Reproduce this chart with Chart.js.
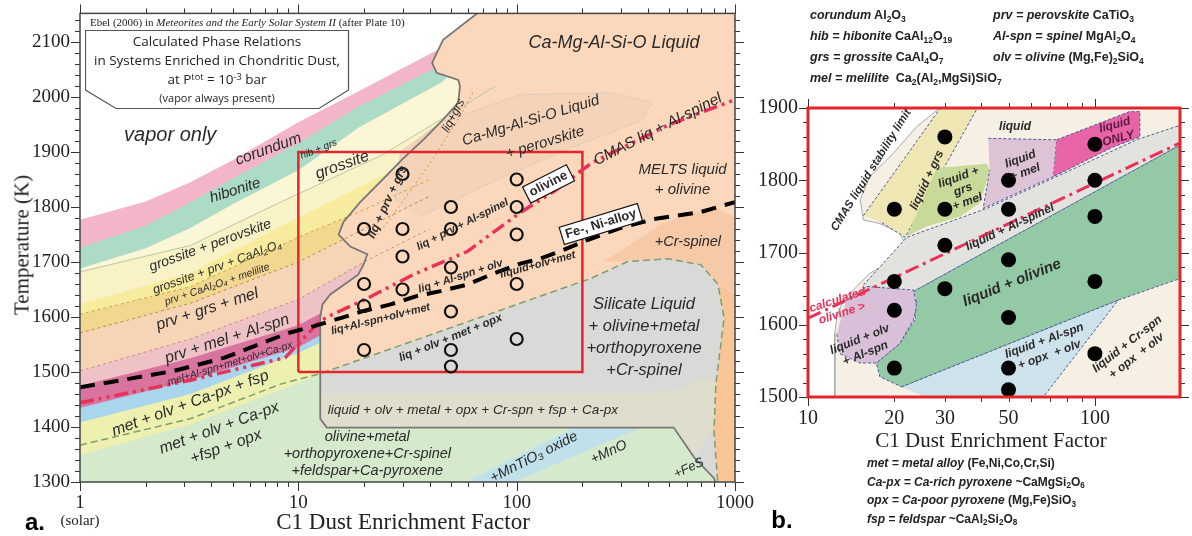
<!DOCTYPE html>
<html><head><meta charset="utf-8">
<script src="https://cdn.jsdelivr.net/npm/chart.js@4.4.1/dist/chart.umd.min.js"></script>
<style>
body{margin:0;width:1192px;height:536px;position:relative;background:#fff;overflow:hidden;font-family:"Liberation Sans",Arial,sans-serif}
.abs{position:absolute}
sub{font-size:.68em;vertical-align:baseline;position:relative;top:.32em;line-height:0}
sup{font-size:.68em;vertical-align:baseline;position:relative;top:-.45em;line-height:0}
.note{font-weight:bold;color:#222;white-space:nowrap}
.serif{font-family:"Liberation Serif","Times New Roman",serif;color:#222;white-space:nowrap}
</style></head><body>
<canvas id="ca" class="abs" width="760" height="536" style="left:0;top:0"></canvas>
<canvas id="cb" class="abs" width="452" height="536" style="left:740px;top:0"></canvas>

<div class="abs serif" style="left:90px;top:16px;font-size:11px">Ebel (2006) in <i>Meteorites and the Early Solar System II</i> (after Plate 10)</div>
<svg class="abs" style="left:85px;top:30px" width="266" height="81"><polygon points="0.5,0.5 263.5,0.5 263.5,60 234,78.5 31,78.5 0.5,60" fill="#fff" stroke="#555" stroke-width="1.2"/></svg>
<div class="abs" style="left:85px;top:30px;width:264px;text-align:center;font-family:'Open Sans',sans-serif;color:#222">
<div style="font-size:13.5px;line-height:19px;margin-top:2px">Calculated Phase Relations</div>
<div style="font-size:13.5px;line-height:19px">in Systems Enriched in Chondritic Dust,</div>
<div style="font-size:13.5px;line-height:19px">at P<sup>tot</sup> = 10<sup>-3</sup> bar</div>
<div style="font-size:11px;line-height:17px">(vapor always present)</div>
</div>

<div class="abs serif" style="top:245px;font-size:21px;transform:translate(-50%,-50%) rotate(-90deg);transform-origin:50% 50%;left:22px">Temperature (K)</div>
<div class="abs serif" style="left:403px;top:522px;font-size:23px;transform:translate(-50%,-50%)">C1 Dust Enrichment Factor</div>
<div class="abs serif" style="left:80px;top:520px;font-size:15px;transform:translate(-50%,-50%)">(solar)</div>
<div class="abs" style="left:35px;top:522px;font-size:24px;font-weight:bold;transform:translate(-50%,-50%)">a.</div>
<div class="abs serif" style="left:991px;top:440px;font-size:21px;transform:translate(-50%,-50%)">C1 Dust Enrichment Factor</div>
<div class="abs" style="left:782px;top:520px;font-size:24px;font-weight:bold;transform:translate(-50%,-50%)">b.</div>

<div class="abs note" style="left:810px;top:5px;font-size:12.5px;line-height:21px">
<div><i>corundum</i> Al<sub>2</sub>O<sub>3</sub></div>
<div><i>hib = hibonite</i> CaAl<sub>12</sub>O<sub>19</sub></div>
<div><i>grs = grossite</i> CaAl<sub>4</sub>O<sub>7</sub></div>
<div><i>mel = melilite</i>&nbsp; Ca<sub>2</sub>(Al<sub>2</sub>,MgSi)SiO<sub>7</sub></div>
</div>
<div class="abs note" style="left:993px;top:5px;font-size:12.5px;line-height:21px">
<div><i>prv = perovskite</i> CaTiO<sub>3</sub></div>
<div><i>Al-spn = spinel</i> MgAl<sub>2</sub>O<sub>4</sub></div>
<div><i>olv = olivine</i> (Mg,Fe)<sub>2</sub>SiO<sub>4</sub></div>
</div>
<div class="abs note" style="left:867px;top:454px;font-size:12px;line-height:18.5px">
<div><i>met = metal alloy</i> (Fe,Ni,Co,Cr,Si)</div>
<div><i>Ca-px = Ca-rich pyroxene</i> ~CaMgSi<sub>2</sub>O<sub>6</sub></div>
<div><i>opx = Ca-poor pyroxene</i> (Mg,Fe)SiO<sub>3</sub></div>
<div><i>fsp = feldspar</i> ~CaAl<sub>2</sub>Si<sub>2</sub>O<sub>8</sub></div>
</div>

<script>
// ===================== DATA =====================
// Experiment / calculation points [C1 dust enrichment, T (K)]
const runPoints = [[20,1760],[20,1660],[20,1620],[20,1540],
  [30,1860],[30,1760],[30,1710],[30,1650],
  [50,1800],[50,1760],[50,1690],[50,1610],[50,1540],[50,1510],
  [100,1850],[100,1800],[100,1750],[100,1660],[100,1560]];

// Tick labels
const aXTicks = [1, 10, 100, 1000];
const aYTicks = [1300, 1400, 1500, 1600, 1700, 1800, 1900, 2000, 2100];
const bXTicks = [10, 20, 30, 50, 100];
const bYTicks = [1500, 1600, 1700, 1800, 1900];

// ---- Panel a: upper edges of condensate bands (x = enrichment, y = T) ----
const corundumTop   = [[1,1777],[2,1810],[3.2,1845],[5,1885],[10,1954],[19,2011],[45,2089],[80,2170]];
const hiboniteTop   = [[1,1726],[2,1766],[3.2,1808],[5,1852],[10,1916],[19,1983],[45,2058],[80,2140]];
const grossiteTop   = [[1,1688],[2,1725],[3.2,1762],[5,1805],[10,1867],[19,1945],[45,2026],[80,2110]];
const grsPrvTop     = [[1,1682],[3.2,1730],[8.3,1809],[24,1894],[51,1972],[80,2020]];
const grsPrvCaAlTop = [[1,1623],[3.2,1680],[8.3,1765],[20,1840],[40,1900],[80,1960]];
const prvCaAlMelTop = [[1,1605],[3.2,1655],[10,1745],[20,1795],[40,1850]];
const prvGrsMelTop  = [[1,1571],[3.2,1625],[10,1700],[20,1760],[40,1820]];
const prvMelSpnTop  = [[1,1502],[3.2,1560],[10,1632],[20,1700],[40,1760]];
const melSpnMetTop  = [[1,1475],[3.2,1525],[10,1585],[20,1650],[40,1710]];
const spnBlueTop    = [[1,1435],[3.2,1485],[10,1545],[20,1610],[40,1670]];
const metOlvFspTop  = [[1,1408],[3.2,1460],[10,1535],[20,1590],[40,1650]];
const metOlvOpxTop  = [[1,1349],[3.2,1405],[10,1480],[20,1530],[900,1530]];
// liquid stability boundary (grey line)
const liquidEdge = [[70,2160],[46,2104],[41,2062],[43,2044],[54,2031],[55,2020],[54,1990],[46,1959],[37.5,1923],[30,1887],[24.5,1851],[19.2,1809],[16.1,1773],[15.3,1750],[17.3,1728],[20.7,1714],[19.9,1695],[18.8,1677],[14,1641],[12.9,1623],[12.6,1600],[12.6,1415],[13.5,1399],[524,1399],[649,1345],[801,1307],[830,1290]];
const silicateRegion = [[12.6,1497],[218,1670],[323,1701],[493,1706],[698,1695],[836,1659],[891,1598],[818,1479],[801,1394],[836,1290],[801,1307],[649,1345],[524,1399],[13.5,1399],[12.6,1415]];
const silicateLowBand = [[12.6,1399],[12.6,1462],[420,1462],[560,1470],[700,1490],[810,1480],[801,1394],[649,1345],[524,1399]];
const crSpinelRegion = [[251,1701],[457,1768],[649,1791],[836,1795],[1000,1782],[1000,1640],[836,1659],[698,1695],[493,1706],[323,1701]];
const orangeStrip = [[836,1659],[891,1598],[818,1479],[801,1394],[836,1290],[1000,1290],[1000,1640]];
const cmasPrvRegion = [[27.8,1809],[29.4,1900],[44.9,1954],[104,2004],[268,2008],[420,1990],[371,1957],[159,1900],[68.4,1836],[36.3,1782]];
const mnTiO3Band = [[52.5,1290],[185,1399],[371,1399],[84.5,1290]];
const greenDashed = [[1,1367],[3.2,1415],[8.3,1478],[12.6,1497],[218,1670],[323,1701],[493,1706],[698,1695],[836,1659],[891,1598],[818,1479],[801,1394],[836,1290]];
const liqGrsDotted = [[62.9,2008],[55.3,1966],[40.3,1881],[31.6,1822],[26.4,1779],[22,1740]];
const feNiAlloy = [[1,1472],[2.7,1502],[4.6,1526],[9,1571],[11.7,1583],[15.6,1598],[19.9,1611],[26.5,1623],[34.8,1638],[44.8,1647],[59.5,1659],[75,1676],[104,1697],[128,1706],[164,1722],[211,1740],[300,1762],[425,1778],[698,1791],[1000,1809]];
const olivineA = [[1,1444],[3.2,1485],[8.7,1526],[12.6,1593],[14.4,1605],[20.7,1634],[33.6,1677],[59.4,1719],[104,1790],[150,1830],[220,1880],[500,1950],[1000,1995]];
const zoomBox = [[10,1500],[200,1500],[200,1900],[10,1900],[10,1500]];

// ---- Panel b regions ----
const bWhite = [[9,1910],[29.2,1910],[29.2,1902],[23.9,1874],[19.8,1837],[16.4,1805],[15.2,1773],[15.6,1745],[17.8,1740],[20.9,1727],[22.1,1708],[19.8,1690],[16.4,1671],[14.8,1653],[13.3,1634],[12.6,1611],[12.4,1588],[12.4,1490],[9,1490]];
const bLiqGrs = [[15.6,1751],[29.2,1902],[39.2,1902],[21.8,1721],[17.8,1743]];
const bGrsMel = [[22.1,1722],[28.1,1817],[42,1823],[43.1,1814],[39.7,1768],[33.9,1750],[25.9,1736],[23.3,1727]];
const bMel = [[42.5,1858],[73.6,1856],[71.6,1805],[40.8,1761],[43,1814]];
const bOnly = [[73.6,1856],[132,1895],[143.5,1895],[143.5,1860],[115.8,1846],[71.6,1805]];
const bSpinel = [[15.6,1655],[22.1,1721],[42,1761],[71.6,1803],[139.7,1856],[205,1878],[205,1846],[192.6,1846],[23.3,1646],[16,1653]];
const bOlivine = [[23.3,1646],[192.6,1846],[205,1846],[205,1666],[120.5,1634],[21.2,1514],[17.8,1528],[17.3,1547],[20.9,1574],[23.6,1607],[23.9,1634]];
const bOlvSpn = [[13.6,1634],[16,1653],[23.3,1648],[23.9,1625],[23.3,1607],[20.9,1574],[17.3,1547],[15.2,1547],[12.9,1560],[12.6,1588]];
const bOpx = [[21.2,1514],[120.5,1634],[66.1,1500],[25.9,1500]];
const bOlivineCalc = [[10,1609],[196.6,1851]];

// ===================== HELPERS =====================
const XY = a => a.map(([x, y]) => ({x, y}));
const fI = s => `italic ${s}px "Liberation Sans", Arial, sans-serif`;
const fBI = s => `italic bold ${s}px "Liberation Sans", Arial, sans-serif`;
const fB = s => `bold ${s}px "Liberation Sans", Arial, sans-serif`;
const serif = '"Liberation Serif", "Times New Roman", serif';

function poly(pts, color, extra) {
  return Object.assign({data: XY(pts), fill: 'shape', backgroundColor: color, borderColor: 'rgba(0,0,0,0)', borderWidth: 0, pointRadius: 0}, extra || {});
}
function band(top, color) {
  const last = top[top.length - 1][0];
  return poly([[0.9, top[0][1]], ...top, [last, 1280], [0.9, 1280]], color);
}
function line(pts, color, width, dash) {
  return {data: XY(pts), fill: false, borderColor: color, borderWidth: width, borderDash: dash || [], pointRadius: 0};
}
function order(list) { return list.map((d, i) => Object.assign({order: -i, tension: 0, pointHoverRadius: 0}, d)); }

function labelPlugin(items) {
  return {id: 'lbl', afterDatasetsDraw(chart) {
    const {ctx, scales: {x, y}} = chart;
    for (const L of items) {
      const px = x.getPixelForValue(L.x), py = y.getPixelForValue(L.y);
      ctx.save();
      ctx.translate(px, py); ctx.rotate((L.r || 0) * Math.PI / 180);
      ctx.font = L.f; ctx.textAlign = 'center'; ctx.textBaseline = 'middle';
      const lines = L.t.split('\n'); const lh = L.lh || 16;
      if (L.box) {
        const w = Math.max(...lines.map(s => ctx.measureText(s).width)) + 8, h = lh * lines.length + 2;
        ctx.fillStyle = '#fff'; ctx.fillRect(-w / 2, -h / 2, w, h);
        ctx.strokeStyle = '#111'; ctx.lineWidth = 1.2; ctx.strokeRect(-w / 2, -h / 2, w, h);
      }
      ctx.fillStyle = L.c || '#2a2a2a';
      lines.forEach((s, i) => ctx.fillText(s, 0, (i - (lines.length - 1) / 2) * lh));
      ctx.restore();
    }
  }};
}
function framePlugin(o) {
  return {id: 'frame', afterDraw(chart) {
    const {ctx, chartArea: a, scales: {x, y}} = chart;
    ctx.save(); ctx.strokeStyle = '#333'; ctx.lineWidth = 1;
    const tx = (v, len) => { const p = Math.round(x.getPixelForValue(v)) + 0.5; if (p < a.left - 1 || p > a.right + 1) return; ctx.beginPath(); ctx.moveTo(p, a.bottom); ctx.lineTo(p, a.bottom + len); ctx.moveTo(p, a.top); ctx.lineTo(p, a.top - len); ctx.stroke(); };
    const ty = (v, len) => { const p = Math.round(y.getPixelForValue(v)) + 0.5; if (p < a.top - 1 || p > a.bottom + 1) return; ctx.beginPath(); ctx.moveTo(a.left, p); ctx.lineTo(a.left - len, p); ctx.moveTo(a.right, p); ctx.lineTo(a.right + len, p); ctx.stroke(); };
    o.xMajor.forEach(v => tx(v, 9)); o.xMinor.forEach(v => tx(v, 5));
    o.yMajor.forEach(v => ty(v, 9)); o.yMinor.forEach(v => ty(v, 5));
    ctx.strokeStyle = o.frame; ctx.lineWidth = o.frameW;
    ctx.strokeRect(a.left, a.top, a.width, a.height);
    ctx.restore();
  }};
}
function logMinors(lo, hi) { const r = []; for (let d = lo; d < hi; d *= 10) for (let k = 2; k <= 9; k++) r.push(d * k); return r; }
function linMinors(lo, hi, step, major) { const r = []; for (let v = lo; v <= hi; v += step) if (v % major) r.push(v); return r; }

function axes(xmin, xmax, ymin, ymax, xt, yt, yW, xH, fs) {
  const tickFont = {family: serif, size: fs};
  return {
    x: {type: 'logarithmic', min: xmin, max: xmax, grid: {display: false, drawTicks: true, tickLength: 8}, border: {display: false},
        afterBuildTicks: s => { s.ticks = xt.map(v => ({value: v})); }, afterFit: s => { s.height = xH; },
        ticks: {autoSkip: false, maxRotation: 0, padding: 2, color: '#222', font: tickFont, callback: v => String(v)}},
    y: {type: 'linear', min: ymin, max: ymax, grid: {display: false, drawTicks: true, tickLength: 8}, border: {display: false},
        afterBuildTicks: s => { s.ticks = yt.map(v => ({value: v})); }, afterFit: s => { s.width = yW; },
        ticks: {autoSkip: false, padding: 2, color: '#222', font: tickFont, callback: v => String(v)}}
  };
}

// ===================== PANEL A =====================
const aLabels = [
  {t:'Ca-Mg-Al-Si-O Liquid', x:279, y:2098, f:fI(18)},
  {t:'Ca-Mg-Al-Si-O Liquid', x:116, y:1957, r:-17, f:fI(15)},
  {t:'+ perovskite', x:135, y:1917, r:-17, f:fI(15)},
  {t:'CMAS liq + Al-spinel', x:443, y:1941, r:-27, f:fI(15.5)},
  {t:'MELTS liquid\n+ olivine', x:575, y:1850, f:fI(15), lh:20},
  {t:'+Cr-spinel', x:609, y:1737, f:fI(14.5)},
  {t:'Silicate Liquid\n+ olivine+metal\n+orthopyroxene\n+Cr-spinel', x:383, y:1562, f:fI(16.5), lh:22},
  {t:'liquid + olv + metal + opx + Cr-spn + fsp + Ca-px', x:63, y:1430, f:fI(13.5)},
  {t:'olivine+metal\n+orthopyroxene+Cr-spinel\n+feldspar+Ca-pyroxene', x:20.7, y:1351, f:fI(14.5), lh:17},
  {t:'+MnTiO\u2083 oxide', x:120, y:1345, r:-27, f:fI(14.5)},
  {t:'+MnO', x:264, y:1354, r:-25, f:fI(14)},
  {t:'+FeS', x:615, y:1325, r:-25, f:fI(13)},
  {t:'vapor only', x:2.59, y:1930, f:fI(20)},
  {t:'corundum', x:7.3, y:1905, r:-20, f:fI(15.5)},
  {t:'hibonite', x:5.14, y:1830, r:-18, f:fI(15)},
  {t:'hib + grs', x:12.4, y:1905, r:-22, f:fI(10)},
  {t:'grossite', x:15.9, y:1876, r:-20, f:fI(16)},
  {t:'grossite + perovskite', x:3.95, y:1730, r:-20, f:fI(14)},
  {t:'grossite + prv + CaAl\u2082O\u2084', x:4.25, y:1690, r:-20, f:fI(12.5)},
  {t:'prv + CaAl\u2082O\u2084 + melilite', x:4.25, y:1659, r:-19, f:fI(10.5)},
  {t:'prv + grs + mel', x:3.83, y:1614, r:-18, f:fI(16)},
  {t:'prv + mel + Al-spn', x:4.72, y:1560, r:-18, f:fI(16)},
  {t:'mel+Al-spn+met+olv+Ca-px', x:4.87, y:1515, r:-17, f:fI(10.5)},
  {t:'met + olv + Ca-px + fsp', x:3.2, y:1443, r:-20, f:fI(16)},
  {t:'met + olv + Ca-px\n+fsp + opx', x:4.5, y:1381, r:-20, f:fI(16), lh:20},
  {t:'liq+grs', x:51.4, y:1966, r:-62, f:fI(12)},
  {t:'liq + prv + grs', x:25.6, y:1809, r:-65, f:fBI(12)},
  {t:'liq + prv + Al-spinel', x:56.5, y:1768, r:-27, f:fBI(11)},
  {t:'liq + Al-spn + olv', x:55.3, y:1674, r:-18, f:fBI(11)},
  {t:'liquid+olv+met', x:125, y:1695, r:-15, f:fBI(11)},
  {t:'liq+Al-spn+olv+met', x:23.8, y:1596, r:-14, f:fBI(11)},
  {t:'liq + olv + met + opx', x:49.8, y:1562, r:-22, f:fBI(11.5)},
  {t:'olivine', x:140, y:1842, r:-27, f:fB(13), box:true},
  {t:'Fe-, Ni-alloy', x:243, y:1769, r:-17, f:fB(13), box:true}
];

const aData = order([
  band(corundumTop, '#f3b6c8'),
  band(hiboniteTop, '#acdcc6'),
  band(grossiteTop, '#fbf6d6'),
  band(grsPrvTop, '#f9f2c6'),
  band(grsPrvCaAlTop, '#f7ec9e'),
  band(prvCaAlMelTop, '#f2d88e'),
  band(prvGrsMelTop, '#f6d4b6'),
  band(prvMelSpnTop, '#efc2c6'),
  band(melSpnMetTop, '#d9739f'),
  band(spnBlueTop, '#a9d6ec'),
  band(metOlvFspTop, '#eef0b0'),
  band(metOlvOpxTop, '#d5e9cc'),
  poly([...liquidEdge, [1100,1290], [1100,2170], [70,2170]], '#fbd8bc'),
  poly(orangeStrip, '#f7c596'),
  poly(crSpinelRegion, '#f6c9a7'),
  poly(cmasPrvRegion, '#f5d3b8', {borderColor: '#e2ccb9', borderWidth: 1}),
  poly(silicateRegion, '#d9dad7'),
  poly(silicateLowBand, '#dfddcb'),
  poly(mnTiO3Band, '#c0e0ea'),
  line(prvCaAlMelTop, '#c9a640', 1, [3,3]),
  line(prvGrsMelTop, '#b88a5a', 1, [3,3]),
  line(prvMelSpnTop, '#d08a8a', 1, [3,3]),
  line(grsPrvTop, '#b9c89a', 1, []),
  line(liqGrsDotted, '#e0a060', 1.2, [2,3]),
  line(liquidEdge, '#777', 1.8),
  line(greenDashed, '#7d9e70', 1.5, [7,4]),
  line(zoomBox, '#e3262d', 2.5),
  line(olivineA, '#e8325a', 3.5, [14,5,3,5,3,5]),
  line(feNiAlloy, '#000', 4, [15,9]),
  {data: XY(runPoints), showLine: false, pointRadius: 6, pointBorderWidth: 2.2, pointBorderColor: '#111', pointBackgroundColor: 'rgba(0,0,0,0)'}
]);

new Chart(document.getElementById('ca'), {
  type: 'line',
  data: {datasets: aData},
  options: {
    responsive: false, animation: false, devicePixelRatio: 1, events: [],
    layout: {padding: {left: 0, right: 25, top: 10, bottom: 0}},
    plugins: {legend: {display: false}, tooltip: {enabled: false}},
    scales: axes(1, 1000, 1300, 2152, aXTicks, aYTicks, 80, 54, 19)
  },
  plugins: [labelPlugin(aLabels), framePlugin({xMajor: aXTicks, xMinor: logMinors(1, 1000), yMajor: aYTicks, yMinor: linMinors(1300, 2140, 20, 100), frame: '#444', frameW: 1.5})]
});

// ===================== PANEL B =====================
const bLabels = [
  {t:'CMAS liquid stability limit', x:16.6, y:1814, r:-58, f:fBI(11.5)},
  {t:'liquid + grs', x:26, y:1800, r:-65, f:fBI(12)},
  {t:'liquid', x:52.7, y:1874, f:fBI(12)},
  {t:'liquid\n+ mel', x:56.1, y:1820, r:-20, f:fBI(12), lh:14},
  {t:'liquid\nONLY', x:119, y:1867, r:-15, f:fBI(12), lh:14, c:'#5c1a3e'},
  {t:'liquid +\ngrs\n+ mel', x:34.7, y:1787, r:-20, f:fBI(12), lh:13},
  {t:'liquid + Al-spinel', x:50.6, y:1735, r:-25, f:fBI(12)},
  {t:'liquid + olivine', x:51.4, y:1658, r:-22, f:fBI(15)},
  {t:'calculated\nolivine >', x:12.9, y:1625, r:-18, f:fBI(12), lh:14, c:'#e8325a'},
  {t:'liquid + olv\n+ Al-spn', x:15.5, y:1570, r:-22, f:fBI(12), lh:15},
  {t:'liquid + Al-spn\n+ opx  + olv', x:68, y:1568, r:-20, f:fBI(12), lh:15},
  {t:'liquid + Cr-spn\n+ opx  + olv', x:134.6, y:1565, r:-38, f:fBI(12), lh:15}
];
const dot = {borderColor: '#4d5c9c', borderWidth: 1, borderDash: [3,2]};
const bData = order([
  poly([[9,1490],[250,1490],[250,1910],[9,1910]], '#f6efe3'),
  poly(bWhite, '#ffffff', {borderColor: '#aaa', borderWidth: 1}),
  poly(bSpinel, '#e2e2de', dot),
  poly(bLiqGrs, '#efe7b3', dot),
  poly(bGrsMel, '#c8da9a'),
  poly(bMel, '#dcc3d6', dot),
  poly(bOnly, '#e765a6', dot),
  poly(bOlivine, '#93caa5', dot),
  poly(bOlvSpn, '#d8c0d8', dot),
  poly(bOpx, '#cde2ea', dot),
  line(bOlivineCalc, '#e8325a', 3, [14,5,3,5]),
  {data: XY(runPoints), showLine: false, pointRadius: 7.5, pointBorderWidth: 0, pointBackgroundColor: '#000'}
]);

new Chart(document.getElementById('cb'), {
  type: 'line',
  data: {datasets: bData},
  options: {
    responsive: false, animation: false, devicePixelRatio: 1, events: [],
    layout: {padding: {left: 0, right: 12, top: 108, bottom: 0}},
    plugins: {legend: {display: false}, tooltip: {enabled: false}},
    scales: axes(10, 198, 1500, 1900, bXTicks, bYTicks, 68, 139, 20)
  },
  plugins: [labelPlugin(bLabels), framePlugin({xMajor: [10, 100], xMinor: [20,30,40,50,60,70,80,90], yMajor: bYTicks, yMinor: linMinors(1500, 1900, 20, 100), frame: '#e3262d', frameW: 3})]
});
</script>
</body></html>
